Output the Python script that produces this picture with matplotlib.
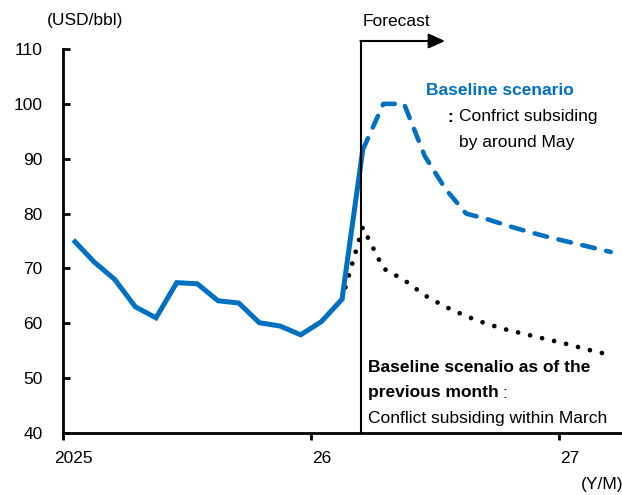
import matplotlib
matplotlib.use("Agg")
import matplotlib.pyplot as plt
import numpy as np

plt.rcParams['font.family'] = ['Liberation Sans', 'DejaVu Sans']

# Monthly data, index 0 = Jan 2025
actual_months = list(range(0, 15))          # Jan 2025 .. Mar 2026
actual = [75.2, 71.2, 68.0, 63.0, 61.0, 67.4, 67.2, 64.1, 63.7, 60.1, 59.5, 57.9, 60.3, 64.4, 91.6]

baseline_months = list(range(14, 27))       # Mar 2026 .. Mar 2027
baseline = [91.6, 100.0, 100.0, 90.5, 84.5, 80.0, 79.0, 77.8, 76.7, 75.7, 74.8, 73.9, 73.0]

previous_months = list(range(13, 27))       # Feb 2026 .. Mar 2027
previous = [64.4, 77.5, 70.0, 67.9, 65.1, 63.0, 61.3, 59.9, 58.8, 57.9, 57.0, 56.1, 55.1, 54.2]

year_ticks = [0, 12, 24]
year_labels = ["2025", "26", "27"]
forecast_start = 14.42
blue = "#0070C0"
FS = 12.5

W, H = 622, 495
fig = plt.figure(figsize=(W / 100, H / 100), dpi=100)
ax = fig.add_axes([63 / W, 1 - 433 / H, (W - 63) / W, (433 - 49) / H])

x_act = np.array(actual_months) + 0.5
x_base = np.array(baseline_months) + 0.5
x_prev = np.array(previous_months) + 0.5

ax.plot(x_prev, previous, color="black", lw=3.4, linestyle=(0, (0.01, 2.6)),
        dash_capstyle="round", zorder=2)
ax.plot(x_base, baseline, color=blue, lw=3.3, linestyle=(0, (2.8, 2.55)),
        dash_capstyle="round", zorder=3)
ax.plot(x_act, actual, color=blue, lw=3.6, solid_capstyle="butt",
        solid_joinstyle="miter", zorder=3)

ax.set_xlim(0, (W - 63) / 20.67)
ax.set_ylim(40, 110)
ax.set_yticks(np.arange(40, 111, 10))
ax.tick_params(axis="y", direction="in", length=5, width=2, labelsize=FS, pad=14.5)
ax.set_xticks(year_ticks)
ax.set_xticklabels([])
ax.set_xticks(np.array(year_ticks) + 0.5, minor=True)
ax.set_xticklabels(year_labels, minor=True)
ax.tick_params(axis="x", which="major", direction="out", length=5, width=2)
ax.tick_params(axis="x", which="minor", length=0, labelsize=FS, pad=13)

for s in ["top", "right"]:
    ax.spines[s].set_visible(False)
for s in ["left", "bottom"]:
    ax.spines[s].set_linewidth(2)

# Forecast marker
y_top = 110 + (49 - 41) / 5.486
ax.plot([forecast_start, forecast_start], [40, y_top], color="black", lw=1.5,
        clip_on=False, zorder=4)
ax.annotate("", xy=(forecast_start + (445 - 361) / 20.67, y_top),
            xytext=(forecast_start - 0.03, y_top),
            arrowprops=dict(arrowstyle="-|>,head_length=1.0,head_width=0.45",
                            color="black", lw=1.5, shrinkA=0, shrinkB=0),
            annotation_clip=False)

def px(x, y):
    return (x / W, 1 - y / H)

fig.text(*px(47, 21), "(USD/bbl)", fontsize=FS, va="center", ha="left")
fig.text(*px(363, 21), "Forecast", fontsize=FS, va="center", ha="left")
fig.text(*px(426, 90), "Baseline scenario", fontsize=FS, va="center", ha="left",
         color=blue, fontweight="bold")
fig.text(*px(447, 117), ":", fontsize=FS, va="center", ha="left", fontweight="bold")
fig.text(*px(459, 117), "Confrict subsiding", fontsize=FS, va="center", ha="left")
fig.text(*px(459, 143), "by around May", fontsize=FS, va="center", ha="left")
fig.text(*px(368, 367), "Baseline scenalio as of the", fontsize=FS, va="center",
         ha="left", fontweight="bold")
t = fig.text(*px(368, 393), "previous month", fontsize=FS, va="center", ha="left",
             fontweight="bold")
fig.canvas.draw()
bb = t.get_window_extent()
fig.text((bb.x1 + 4) / W, 1 - 393 / H, ":", fontsize=FS, va="center", ha="left")
fig.text(*px(368, 418), "Conflict subsiding within March", fontsize=FS,
         va="center", ha="left")
fig.text(*px(581, 485), "(Y/M)", fontsize=FS, va="center", ha="left")

fig.savefig("out.png", dpi=100)
